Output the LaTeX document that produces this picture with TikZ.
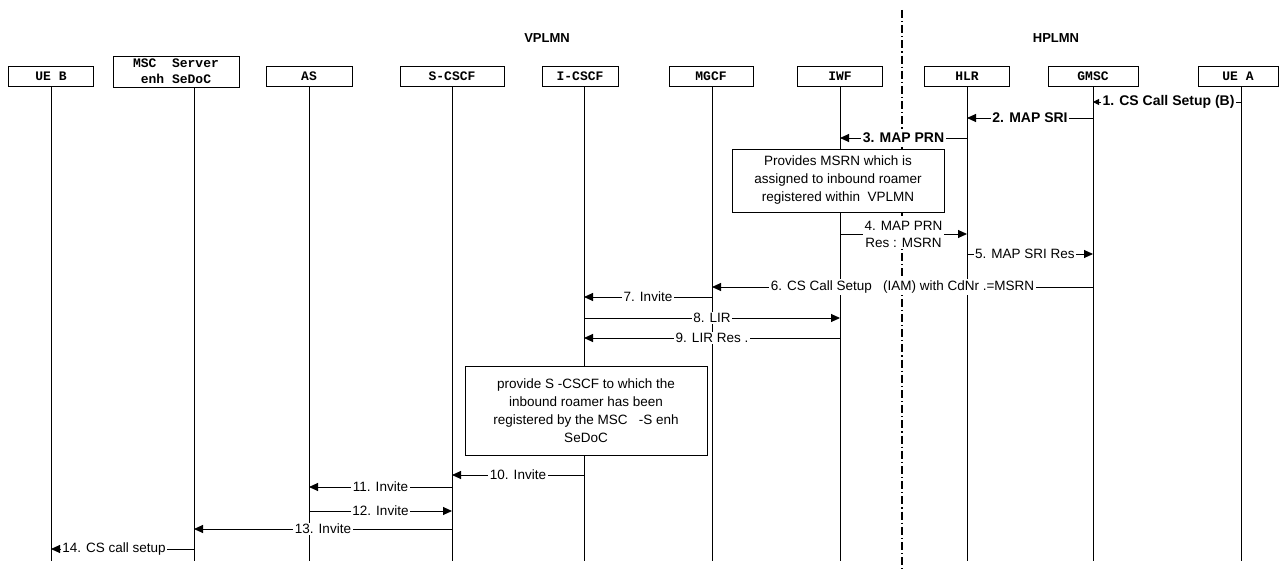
\documentclass[tikz,border=0pt]{standalone}
\usepackage{fontspec}
\setmainfont{Liberation Sans}
\setmonofont{Liberation Mono}
\usetikzlibrary{positioning,arrows.meta}
\tikzset{
    entity/.style={draw,line width=0.8pt,inner sep=1pt,minimum height=20,align=center,
                   font=\ttfamily\bfseries\fontsize{13}{16}\selectfont},
    lifeline/.style={line width=0.9pt},
    border/.style={line width=1.1pt,dash pattern=on 8pt off 3pt on 1.2pt off 3pt},
    msg/.style={line width=0.9pt,-{Triangle[length=9pt,width=8pt]}},
    lbl/.style={fill=white,inner sep=1.5pt,align=center,font=\fontsize{13.5}{17}\selectfont},
    blbl/.style={lbl,font=\bfseries\fontsize{14}{17}\selectfont},
    note/.style={draw,fill=white,line width=0.8pt,align=center,font=\fontsize{13.5}{18}\selectfont},
    plmn/.style={font=\bfseries\fontsize{13}{16}\selectfont}
}

\begin{document}
\begin{tikzpicture}[x=1pt,y=-1pt]
    \useasboundingbox (0,0) rectangle (1283,572);
    \node[plmn] (vplmn) at (547,38) {VPLMN};
    \node[plmn] (hplmn) at (1056,38) {HPLMN};

    \node[entity,minimum width=85] (ueb) at (51,76) {UE B};
    \node[entity,minimum width=126,minimum height=31] (msc) at (176,71.5) {MSC~~Server\\enh SeDoC};
    \node[entity,minimum width=86] (as) at (309,76) {AS};
    \node[entity,minimum width=104] (scscf) at (452,76) {S-CSCF};
    \node[entity,minimum width=76] (icscf) at (580,76) {I-CSCF};
    \node[entity,minimum width=84] (mgcf) at (711,76) {MGCF};
    \node[entity,minimum width=85] (iwf) at (840,76) {IWF};
    \node[entity,minimum width=85] (hlr) at (967,76) {HLR};
    \node[entity,minimum width=90] (gmsc) at (1093,76) {GMSC};
    \node[entity,minimum width=80] (uea) at (1238,76) {UE A};

    \foreach \n/\x in {ueb/51,msc/194,as/309,scscf/452,icscf/584,mgcf/712,iwf/840,hlr/967,gmsc/1093,uea/1241}{
        \coordinate (\n-l) at (\x,0);
        \draw[lifeline] (\n-l |- \n.south) -- (\n-l |- 0,561);
    }

    \coordinate (border-top) at (902,10);
    \coordinate (border-bot) at (902,572);
    \draw[border] (border-top) -- (border-bot);

    \draw[msg,-{Triangle[length=6pt,width=6pt]}] (uea-l |- 0,102) -- node[blbl,pos=0.49] {1. CS Call Setup (B)} (gmsc-l |- 0,102);
    \draw[msg] (gmsc-l |- 0,118) -- node[blbl] {2. MAP SRI} (hlr-l |- 0,118);
    \draw[msg] (hlr-l |- 0,138) -- node[blbl] {3. MAP PRN} (iwf-l |- 0,138);
    \draw[msg] (iwf-l |- 0,234) -- node[lbl] {4. MAP PRN\\Res : MSRN} (hlr-l |- 0,234);
    \draw[msg] (hlr-l |- 0,254) -- node[lbl,pos=0.46] {5. MAP SRI Res} (gmsc-l |- 0,254);
    \draw[msg] (gmsc-l |- 0,287) -- node[lbl] {6. CS Call Setup~~~(IAM) with CdNr .=MSRN} (mgcf-l |- 0,287);
    \draw[msg] (mgcf-l |- 0,297) -- node[lbl] {7. Invite} (icscf-l |- 0,297);
    \draw[msg] (icscf-l |- 0,318) -- node[lbl] {8. LIR} (iwf-l |- 0,318);
    \draw[msg] (iwf-l |- 0,338) -- node[lbl] {9. LIR Res .} (icscf-l |- 0,338);
    \draw[msg] (icscf-l |- 0,475) -- node[lbl] {10. Invite} (scscf-l |- 0,475);
    \draw[msg] (scscf-l |- 0,487) -- node[lbl] {11. Invite} (as-l |- 0,487);
    \draw[msg] (as-l |- 0,511) -- node[lbl] {12. Invite} (scscf-l |- 0,511);
    \draw[msg] (scscf-l |- 0,529) -- node[lbl] {13. Invite} (msc-l |- 0,529);
    \draw[msg] (msc-l |- 0,549) -- node[lbl,pos=0.56] {14. CS call setup} (ueb-l |- 0,549);

    \node[note,minimum width=212,minimum height=63] (msrnnote) at (838,180.5)
        {Provides MSRN which is\\assigned to inbound roamer\\registered within~~VPLMN};
    \node[note,minimum width=242,minimum height=89] (scscfnote) at (586,410.5)
        {provide S~-CSCF to which the\\inbound roamer has been\\registered by the MSC~~~-S enh\\SeDoC};
\end{tikzpicture}
\end{document}
